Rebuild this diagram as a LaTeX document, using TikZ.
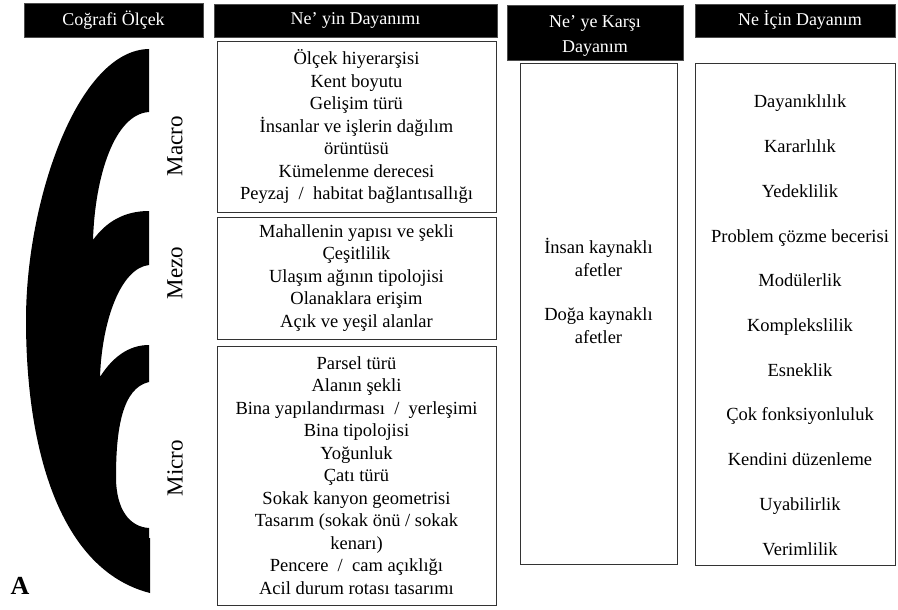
\documentclass[tikz,border=0pt]{standalone}
\usepackage{fontspec}
\setmainfont{Liberation Serif}
\begin{document}
\begin{tikzpicture}[x=1pt,y=-1pt,
  hdr/.style={fill=black,draw=black!70,line width=0.6pt,text=white,align=center,inner sep=0pt,font=\fontsize{18}{21}\selectfont},
  hdrtext/.style={text=white,inner sep=0pt,font=\fontsize{18}{21}\selectfont},
  box/.style={draw=black!80,line width=1pt,inner sep=0pt},
  body/.style={align=center,inner sep=0pt,font=\fontsize{18.5}{22.5}\selectfont},
  scale label/.style={rotate=90,inner sep=0pt,font=\fontsize{23}{27}\selectfont}]
\useasboundingbox (0,0) rectangle (898,610);
% headers
\node[hdr,minimum width=179pt,minimum height=34pt] (h1) at (113.5,20) {Coğrafi Ölçek};
\node[hdr,minimum width=283pt,minimum height=33pt] (h2) at (355.5,20.5) {Ne’ yin Dayanımı};
\node[hdr,minimum width=176pt,minimum height=55pt] (h3) at (595,32.5) {};
\node[hdrtext,anchor=base] (h3a) at (595,28) {Ne’ ye Karşı};
\node[hdrtext,anchor=base] (h3b) at (595,53) {Dayanım};
\node[hdr,minimum width=200pt,minimum height=33pt] (h4) at (795,20.5) {};
\node[hdrtext] (h4t) at (800,20.5) {Ne İçin Dayanım};
% left shape
\fill[black] (149,49) -- (149,112) .. controls (115,114) and (95,175) .. (93,240)
  .. controls (106,222) and (124,211) .. (149,211) -- (149,265)
  .. controls (121,268) and (102,320) .. (100,377)
  .. controls (112,358) and (128,345) .. (149,345) -- (149,382)
  .. controls (122,388) and (116,430) .. (116,477)
  .. controls (116,510) and (130,527) .. (149,528) -- (149,538) -- (150,538) -- (150,593)
  .. controls (60,570) and (26,450) .. (26,320)
  .. controls (26,200) and (78,50) .. (149,49) -- cycle;
\node[scale label] (lmacro) at (175,146) {Macro};
\node[scale label] (lmezo) at (175,273) {Mezo};
\node[scale label] (lmicro) at (175,468) {Micro};
\node[inner sep=0pt,font=\bfseries\fontsize{26}{30}\selectfont] (lA) at (20,586) {A};
% column 2 boxes
\node[box,minimum width=279pt,minimum height=170pt] (macro) at (356.5,127) {};
\node[body] (macrot) at (macro.center) {Ölçek hiyerarşisi\\Kent boyutu\\Gelişim türü\\İnsanlar ve işlerin dağılım\\örüntüsü\\Kümelenme derecesi\\Peyzaj \ / \ habitat bağlantısallığı};
\node[box,minimum width=279pt,minimum height=122pt] (mezo) at (356.5,278) {};
\node[body] (mezot) at (mezo.center) {Mahallenin yapısı ve şekli\\Çeşitlilik\\Ulaşım ağının tipolojisi\\Olanaklara erişim\\Açık ve yeşil alanlar};
\node[box,minimum width=279pt,minimum height=259pt] (micro) at (356.5,475.5) {};
\node[body] (microt) at (micro.center) {Parsel türü\\Alanın şekli\\Bina yapılandırması \ / \ yerleşimi\\Bina tipolojisi\\Yoğunluk\\Çatı türü\\Sokak kanyon geometrisi\\Tasarım (sokak önü / sokak\\kenarı)\\Pencere \ / \ cam açıklığı\\Acil durum rotası tasarımı};
% column 3
\node[box,minimum width=157pt,minimum height=500pt] (against) at (598.5,314) {};
\node[body,anchor=base] (agt1) at (598.5,253) {İnsan kaynaklı};
\node[body,anchor=base] (agt2) at (598.5,276) {afetler};
\node[body,anchor=base] (agt3) at (598.5,320) {Doğa kaynaklı};
\node[body,anchor=base] (agt4) at (598.5,343) {afetler};
% column 4
\node[box,minimum width=200pt,minimum height=501pt] (forwhat) at (795,314.5) {};
\foreach \t [count=\i] in {Dayanıklılık,Kararlılık,Yedeklilik,Problem çözme becerisi,Modülerlik,Komplekslilik,Esneklik,Çok fonksiyonluluk,Kendini düzenleme,Uyabilirlik,Verimlilik}
  \node[body,anchor=base] (fw\i) at (800,{108+44.7*(\i-1)}) {\t};
\end{tikzpicture}
\end{document}
